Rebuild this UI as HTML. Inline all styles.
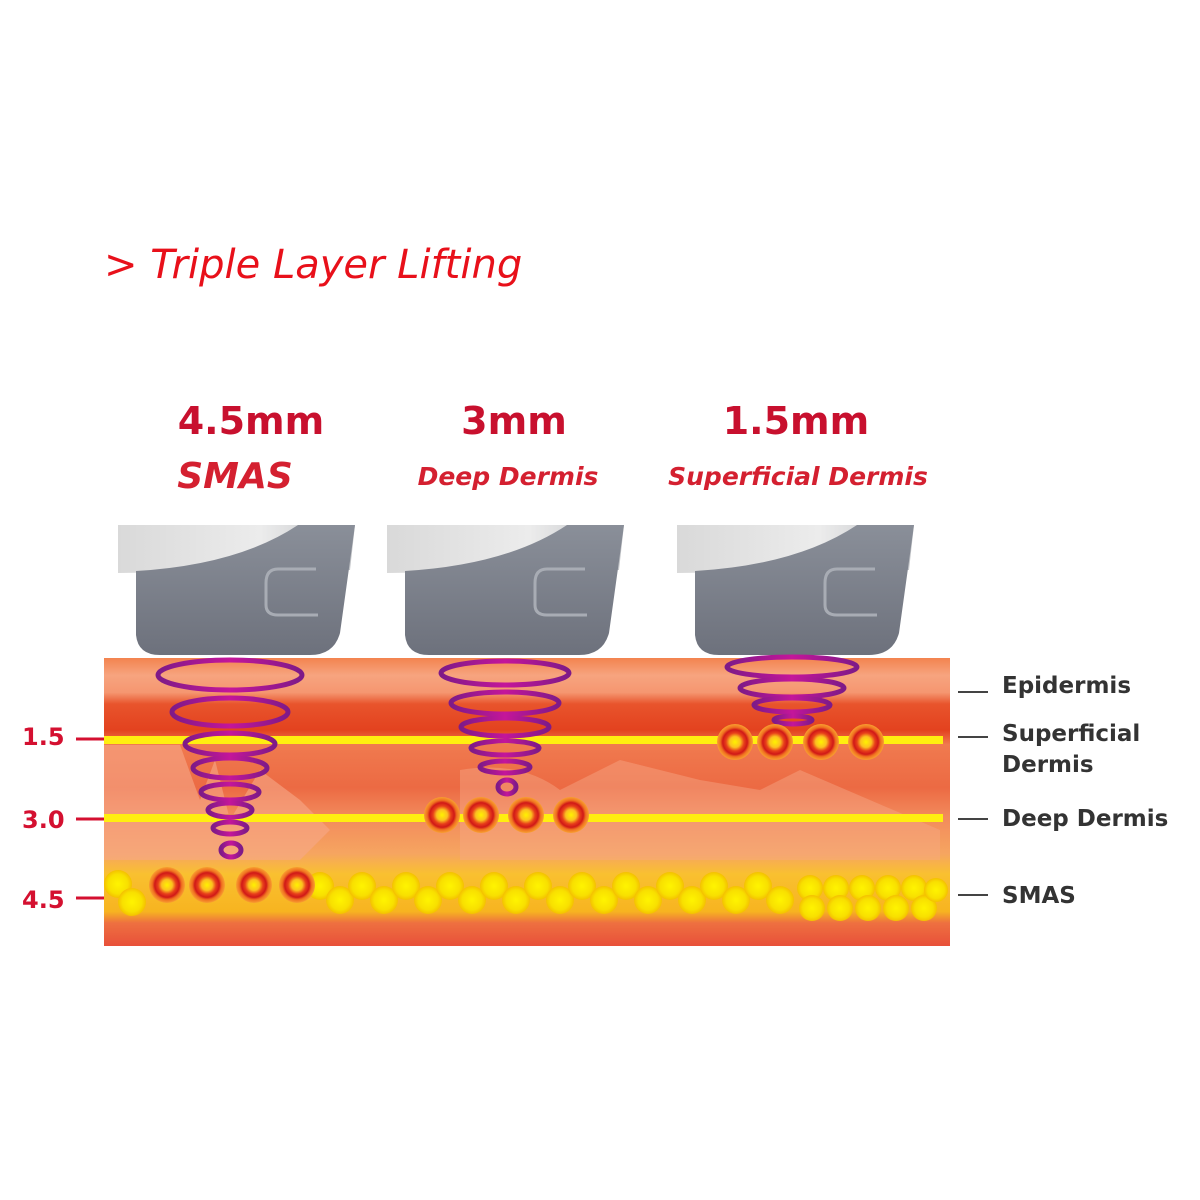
<!DOCTYPE html>
<html><head><meta charset="utf-8"><style>
html,body{margin:0;padding:0;background:#fff;}
svg{display:block;}
</style></head><body>
<svg width="1200" height="1200" viewBox="0 0 1200 1200" xmlns="http://www.w3.org/2000/svg">
<defs>
<linearGradient id="skin" x1="0" y1="0" x2="0" y2="1">
<stop offset="0" stop-color="#f3834f"/>
<stop offset="0.06" stop-color="#f7a47f"/>
<stop offset="0.12" stop-color="#f59670"/>
<stop offset="0.16" stop-color="#e8542c"/>
<stop offset="0.25" stop-color="#e3421f"/>
<stop offset="0.3" stop-color="#f07a4f"/>
<stop offset="0.45" stop-color="#ec6a43"/>
<stop offset="0.55" stop-color="#f28a5c"/>
<stop offset="0.68" stop-color="#f6a560"/>
<stop offset="0.75" stop-color="#f9c030"/>
<stop offset="0.88" stop-color="#f7b420"/>
<stop offset="0.92" stop-color="#ee7040"/>
<stop offset="1" stop-color="#e8503a"/>
</linearGradient>
<radialGradient id="dot">
<stop offset="0" stop-color="#fff200"/>
<stop offset="0.3" stop-color="#fbc020"/>
<stop offset="0.5" stop-color="#e8401a"/>
<stop offset="0.68" stop-color="#d01818"/>
<stop offset="0.82" stop-color="#f07020"/>
<stop offset="1" stop-color="#f8a030"/>
</radialGradient>
<radialGradient id="bub">
<stop offset="0" stop-color="#fff400"/>
<stop offset="0.7" stop-color="#f8e000"/>
<stop offset="1" stop-color="#f4c000"/>
</radialGradient>
<linearGradient id="ring" x1="0" y1="0" x2="1" y2="0">
<stop offset="0" stop-color="#7e1a88"/>
<stop offset="0.5" stop-color="#c4169a"/>
<stop offset="1" stop-color="#7e1a88"/>
</linearGradient>
<linearGradient id="gray" x1="0" y1="0" x2="0" y2="1">
<stop offset="0" stop-color="#8a8f99"/>
<stop offset="1" stop-color="#6d717c"/>
</linearGradient>
<linearGradient id="white" x1="0" y1="0" x2="1" y2="0">
<stop offset="0" stop-color="#d9d9d9"/>
<stop offset="0.6" stop-color="#ececec"/>
<stop offset="1" stop-color="#bfc1c5"/>
</linearGradient>
<g id="hp">
<path d="M0,0 L237,0 L232,45 L0,48 Z" fill="url(#white)"/>
<path d="M18,46 Q120,40 180,0 L237,0 L222,108 Q216,130 192,130 L42,130 Q20,130 18,110 Z" fill="url(#gray)"/>
<path d="M198,44 L160,44 Q148,44 148,58 L148,80 Q148,90 160,90 L200,90" fill="none" stroke="#a8acb4" stroke-width="3"/>
</g>
</defs>

<text x="104" y="278" font-family="DejaVu Sans, sans-serif" font-style="italic" font-size="40" fill="#e8101a">&gt; Triple Layer Lifting</text>

<g font-family="DejaVu Sans, sans-serif" font-weight="bold" fill="#c8102e" text-anchor="middle">
<text x="251" y="434" font-size="38">4.5mm</text>
<text x="514" y="434" font-size="38">3mm</text>
<text x="796" y="434" font-size="38">1.5mm</text>
<text x="235" y="488" font-size="36" font-style="italic" fill="#d42030">SMAS</text>
<text x="508" y="485" font-size="25" font-style="italic" fill="#d42030">Deep Dermis</text>
<text x="798" y="485" font-size="25" font-style="italic" fill="#d42030">Superficial Dermis</text>
</g>

<use href="#hp" x="118" y="525"/>
<use href="#hp" x="387" y="525"/>
<use href="#hp" x="677" y="525"/>

<rect x="104" y="658" width="846" height="288" fill="url(#skin)"/>
<path d="M104,745 L180,745 L200,800 L215,760 L230,820 L260,770 L300,800 L330,830 L300,860 L104,860 Z" fill="#f7a888" opacity="0.6"/>
<path d="M460,770 Q520,760 560,790 L620,760 L700,780 L760,790 L800,770 L940,830 L940,860 L460,860 Z" fill="#f7a888" opacity="0.45"/>
<rect x="104" y="736" width="839" height="8" fill="#ffee10"/>
<rect x="104" y="814" width="839" height="8" fill="#ffee10"/>

<g fill="url(#bub)">
<circle cx="118" cy="884" r="14"/><circle cx="132" cy="902" r="14"/><circle cx="320" cy="886" r="14"/><circle cx="340" cy="900" r="14"/>
<circle cx="362" cy="886" r="14"/><circle cx="384" cy="900" r="14"/><circle cx="406" cy="886" r="14"/><circle cx="428" cy="900" r="14"/>
<circle cx="450" cy="886" r="14"/><circle cx="472" cy="900" r="14"/><circle cx="494" cy="886" r="14"/><circle cx="516" cy="900" r="14"/>
<circle cx="538" cy="886" r="14"/><circle cx="560" cy="900" r="14"/><circle cx="582" cy="886" r="14"/><circle cx="604" cy="900" r="14"/>
<circle cx="626" cy="886" r="14"/><circle cx="648" cy="900" r="14"/><circle cx="670" cy="886" r="14"/><circle cx="692" cy="900" r="14"/>
<circle cx="714" cy="886" r="14"/><circle cx="736" cy="900" r="14"/><circle cx="758" cy="886" r="14"/><circle cx="780" cy="900" r="14"/>
<circle cx="810" cy="888" r="13"/><circle cx="812" cy="908" r="13"/><circle cx="836" cy="888" r="13"/>
<circle cx="840" cy="908" r="13"/><circle cx="862" cy="888" r="13"/><circle cx="868" cy="908" r="13"/><circle cx="888" cy="888" r="13"/>
<circle cx="896" cy="908" r="13"/><circle cx="914" cy="888" r="13"/><circle cx="924" cy="908" r="13"/><circle cx="936" cy="890" r="12"/>
</g>

<g fill="none" stroke="url(#ring)" stroke-width="5">
<ellipse cx="230" cy="675" rx="72" ry="15"/>
<ellipse cx="230" cy="712" rx="58" ry="14"/>
<ellipse cx="230" cy="744" rx="45" ry="11"/>
<ellipse cx="230" cy="768" rx="37" ry="10"/>
<ellipse cx="230" cy="792" rx="29" ry="8"/>
<ellipse cx="230" cy="810" rx="22" ry="7"/>
<ellipse cx="230" cy="828" rx="17" ry="6"/>
<ellipse cx="231" cy="850" rx="10" ry="7"/>
<ellipse cx="505" cy="673" rx="64" ry="12"/>
<ellipse cx="505" cy="703" rx="54" ry="11"/>
<ellipse cx="505" cy="727" rx="44" ry="9"/>
<ellipse cx="505" cy="748" rx="34" ry="7"/>
<ellipse cx="505" cy="767" rx="25" ry="6"/>
<ellipse cx="507" cy="787" rx="9" ry="7"/>
<ellipse cx="792" cy="667" rx="65" ry="10"/>
<ellipse cx="792" cy="688" rx="52" ry="9"/>
<ellipse cx="792" cy="705" rx="38" ry="7"/>
<ellipse cx="793" cy="720" rx="19" ry="4"/>
</g>

<g fill="url(#dot)">
<circle cx="735" cy="742" r="18"/><circle cx="775" cy="742" r="18"/><circle cx="821" cy="742" r="18"/><circle cx="866" cy="742" r="18"/>
<circle cx="442" cy="815" r="18"/><circle cx="481" cy="815" r="18"/><circle cx="526" cy="815" r="18"/><circle cx="571" cy="815" r="18"/>
<circle cx="167" cy="885" r="18"/><circle cx="207" cy="885" r="18"/><circle cx="254" cy="885" r="18"/><circle cx="297" cy="885" r="18"/>
</g>

<g font-family="DejaVu Sans, sans-serif" font-weight="bold" font-size="24" fill="#d41030">
<text x="22" y="745">1.5</text>
<text x="22" y="828">3.0</text>
<text x="22" y="908">4.5</text>
</g>
<g stroke="#d41030" stroke-width="3">
<line x1="76" y1="739" x2="104" y2="739"/>
<line x1="76" y1="819" x2="104" y2="819"/>
<line x1="76" y1="898" x2="104" y2="898"/>
</g>

<g stroke="#444" stroke-width="2">
<line x1="958" y1="692" x2="988" y2="692"/>
<line x1="958" y1="737" x2="988" y2="737"/>
<line x1="958" y1="819" x2="988" y2="819"/>
<line x1="958" y1="895" x2="988" y2="895"/>
</g>
<g font-family="DejaVu Sans, sans-serif" font-weight="bold" font-size="23" fill="#333">
<text x="1002" y="693">Epidermis</text>
<text x="1002" y="741">Superficial</text>
<text x="1002" y="772">Dermis</text>
<text x="1002" y="826">Deep Dermis</text>
<text x="1002" y="903">SMAS</text>
</g>
</svg>
</body></html>
